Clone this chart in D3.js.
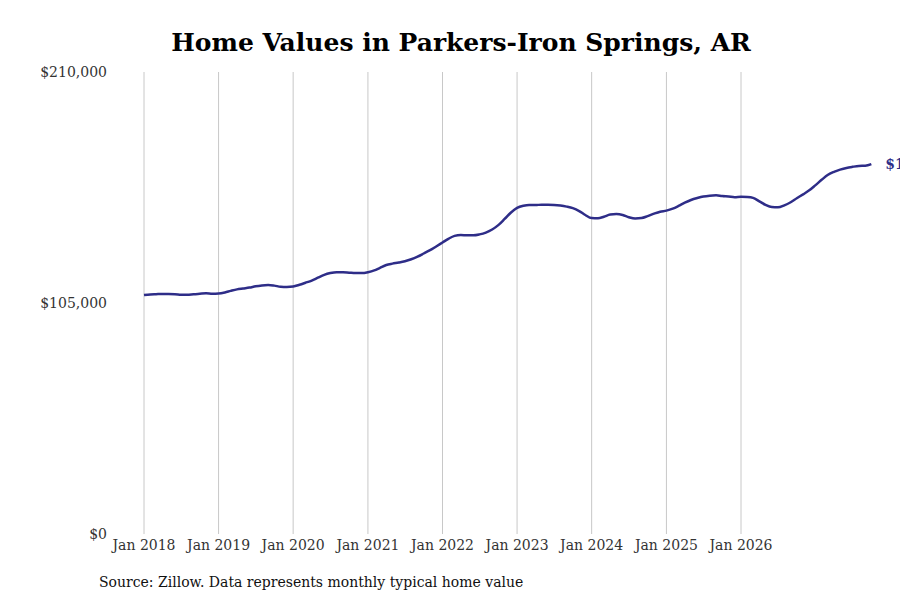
<!DOCTYPE html>
<html>
<head>
<meta charset="utf-8">
<script src="https://d3js.org/d3.v7.min.js"></script>
<style>
  body { margin: 0; background: #fff; }
  text { font-family: "DejaVu Serif", "Liberation Serif", serif; }
</style>
</head>
<body>
<svg width="900" height="600"></svg>
<script>
// Monthly typical home value, Jan 2018 - Jul 2026
var startYear = 2018;
var values = [
  108.6,108.9,109.0,109.1,109.1,109.0,108.8,108.7,109.0,109.2,109.4,109.2,
  109.3,109.8,110.5,111.2,111.6,112.0,112.6,113.0,113.2,112.9,112.4,112.3,
  112.5,113.3,114.2,115.2,116.5,117.8,118.6,119.0,119.0,118.8,118.6,118.6,
  119.0,119.8,121.0,122.3,122.9,123.4,124.0,124.9,126.1,127.5,129.0,130.7,
  132.5,134.3,135.5,135.9,135.8,135.8,136.2,137.0,138.4,140.4,143.2,146.0,
  148.2,149.2,149.6,149.5,149.7,149.7,149.6,149.3,148.8,148.1,146.8,145.0,
  143.6,143.5,144.2,145.2,145.4,145.0,144.0,143.4,143.6,144.5,145.6,146.5,
  147.0,147.9,149.1,150.6,151.8,152.7,153.4,153.8,154.0,153.6,153.4,153.1,
  153.3,153.2,152.8,151.2,149.6,148.6,148.5,149.4,150.8,152.6,154.4,156.2,
  158.6,161.1,163.2,164.6,165.6,166.4,166.9,167.3,167.4,168.1
];
var yTicks = [0, 105000, 210000];
var xYears = d3.range(2018, 2027);
var title = "Home Values in Parkers-Iron Springs, AR";
var source = "Source: Zillow. Data represents monthly typical home value";

var data = values.map(function (v, i) {
  return { date: new Date(startYear, i, 1), value: v * 1000 };
});
data[data.length - 1].value = 168108;

var svg = d3.select("svg");
var mLeft = 144, mRight = 741, mTop = 72, mBottom = 534;

var x = d3.scaleTime()
  .domain([new Date(2018, 0, 1), new Date(2026, 0, 1)])
  .range([mLeft, mRight]);
var y = d3.scaleLinear().domain([0, 210000]).range([mBottom, mTop]);

svg.append("text").attr("x", 461).attr("y", 51).attr("text-anchor", "middle")
  .style("font-size", "25px").style("font-weight", "bold").text(title);

// vertical grid
svg.selectAll(".grid").data(xYears).enter().append("line")
  .attr("x1", function (d) { return x(new Date(d, 0, 1)); })
  .attr("x2", function (d) { return x(new Date(d, 0, 1)); })
  .attr("y1", mTop).attr("y2", mBottom)
  .attr("stroke", "#c8c8c8").attr("stroke-width", 1);

// x labels
svg.selectAll(".xl").data(xYears).enter().append("text")
  .attr("x", function (d) { return x(new Date(d, 0, 1)); })
  .attr("y", 550).attr("text-anchor", "middle")
  .style("font-size", "14px").attr("fill", "#333")
  .text(function (d) { return "Jan " + d; });

// y labels
svg.selectAll(".yl").data(yTicks).enter().append("text")
  .attr("x", 107).attr("y", function (d) { return y(d) + 5; })
  .attr("text-anchor", "end").style("font-size", "14px").attr("fill", "#333")
  .text(function (d) { return "$" + d3.format(",")(d); });

var line = d3.line()
  .x(function (d) { return x(d.date); })
  .y(function (d) { return y(d.value); })
  .curve(d3.curveMonotoneX);

svg.append("path").datum(data)
  .attr("d", line).attr("fill", "none")
  .attr("stroke", "#2e2d88").attr("stroke-width", 2.5);

var last = data[data.length - 1];
svg.append("text").attr("x", x(last.date) + 14).attr("y", y(last.value) + 5)
  .style("font-size", "14px").style("font-weight", "bold").attr("fill", "#2e2d88")
  .text("$" + d3.format(",")(last.value));

svg.append("text").attr("x", 99).attr("y", 587)
  .style("font-size", "14px").attr("fill", "#111").text(source);
</script>
</body>
</html>
